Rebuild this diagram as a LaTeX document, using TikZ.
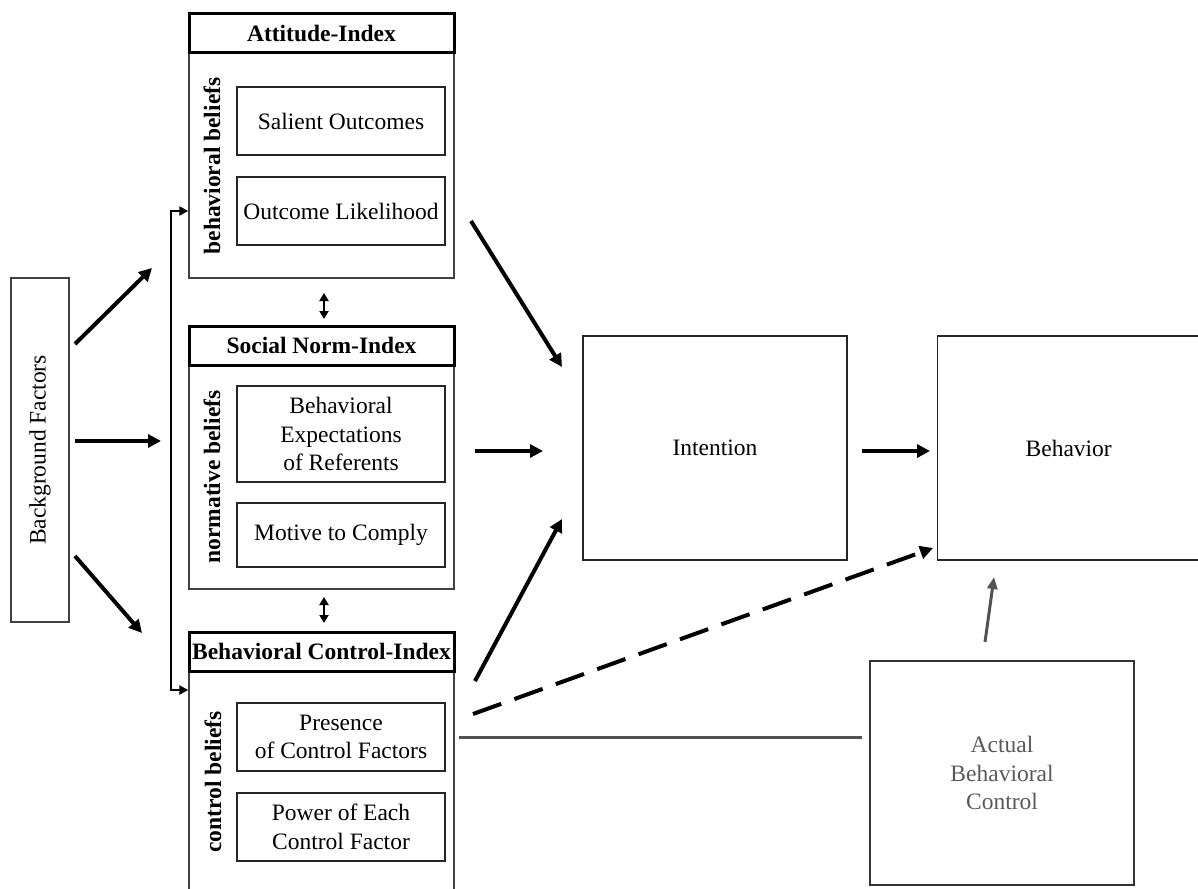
\documentclass[tikz,border=0pt]{standalone}
\usepackage{fontspec}
\setmainfont{Liberation Serif}
\usetikzlibrary{arrows.meta}
\begin{document}
\begin{tikzpicture}[x=1pt,y=-1pt,
  every node/.style={inner sep=0pt, font=\fontsize{23.5}{28.5}\selectfont},
  outerbox/.style={draw=black!75, line width=1.4pt, rectangle},
  headbox/.style={draw=black, line width=3pt, rectangle, fill=white, font=\fontsize{23.5}{28.5}\selectfont\bfseries},
  innerbox/.style={draw=black!85, line width=1.4pt, rectangle, align=center, minimum width=208pt},
  bigbox/.style={draw=black!85, line width=1.4pt, rectangle, align=center},
  sidelabel/.style={font=\fontsize{23.5}{28.5}\selectfont\bfseries},
  arr/.style={line width=4pt, -{Triangle[length=13pt,width=13pt]}},
  brk/.style={line width=2.6pt, {Triangle[length=9pt,width=9pt]}-{Triangle[length=9pt,width=9pt]}},
  dbl/.style={line width=2.4pt, {Triangle[length=8pt,width=9pt]}-{Triangle[length=8pt,width=9pt]}},
  grayc/.style={draw=black!68}
]
\useasboundingbox (0,0) rectangle (1198,888);

% Background factors
\node[outerbox, minimum width=58pt, minimum height=344pt] (bg) at (40,450) {\rotatebox{90}{Background Factors}};

% Attitude
\node[outerbox, minimum width=265pt, minimum height=225pt] (attbody) at (321.5,165.5) {};
\node[headbox, minimum width=265pt, minimum height=39pt] (atthead) at (321.5,33.5) {Attitude-Index};
\node[innerbox, minimum height=68pt] (salient) at (341,121) {Salient Outcomes};
\node[innerbox, minimum height=68pt] (likely) at (341,211) {Outcome Likelihood};
\node[sidelabel] (bbel) at (212,166) {\rotatebox{90}{behavioral beliefs}};

% Social norm
\node[outerbox, minimum width=265pt, minimum height=224pt] (snbody) at (321.5,477) {};
\node[headbox, minimum width=265pt, minimum height=39pt] (snhead) at (321.5,345.5) {Social Norm-Index};
\node[innerbox, minimum height=96pt] (expect) at (341,434) {Behavioral\\Expectations\\of Referents};
\node[innerbox, minimum height=64pt] (motive) at (341,535) {Motive to Comply};
\node[sidelabel] (nbel) at (212,477) {\rotatebox{90}{normative beliefs}};

% Behavioral control
\node[outerbox, minimum width=265pt, minimum height=240pt] (bcbody) at (321.5,791) {};
\node[headbox, minimum width=265pt, minimum height=39pt] (bchead) at (321.5,651.5) {Behavioral Control-Index};
\node[innerbox, minimum height=68pt] (presence) at (341,737) {Presence\\of Control Factors};
\node[innerbox, minimum height=68pt] (power) at (341,827) {Power of Each\\Control Factor};
\node[sidelabel] (cbel) at (213,782) {\rotatebox{90}{control beliefs}};

% Right side
\node[bigbox, minimum width=264pt, minimum height=224pt] (intention) at (715,448) {Intention};
\node[bigbox, minimum width=280pt, minimum height=224pt, anchor=west] (behavior) at (937,448) {\hspace*{-9pt}Behavior\hspace*{9pt}};
\node[bigbox, draw=black!80, text=black!65, minimum width=264pt, minimum height=224pt] (actual) at (1002,773) {Actual\\Behavioral\\Control};

% coordinates
\coordinate (b1s) at (75,344);  \coordinate (b1e) at (152,268);
\coordinate (b2s) at (75,441);  \coordinate (b2e) at (161,441);
\coordinate (b3s) at (75,556);  \coordinate (b3e) at (142,633);
\coordinate (ya) at (0,211); \coordinate (yc) at (0,690);
\coordinate (kx) at (171,0);
\coordinate (d1s) at (324,293); \coordinate (d1e) at (324,319);
\coordinate (d2s) at (324,597); \coordinate (d2e) at (324,623);
\coordinate (a1s) at (471,221); \coordinate (a1e) at (562,367);
\coordinate (a2s) at (475,451); \coordinate (a2e) at (543,451);
\coordinate (a3s) at (475,681); \coordinate (a3e) at (562,519);
\coordinate (a4s) at (862,451); \coordinate (a4e) at (930,451);
\coordinate (dss) at (473,714); \coordinate (dse) at (933,548);
\coordinate (gls) at (459,737); \coordinate (gle) at (862,737);
\coordinate (gas) at (985,642); \coordinate (gae) at (994,577);

% arrows from background
\draw[arr] (b1s) -- (b1e);
\draw[arr] (b2s) -- (b2e);
\draw[arr] (b3s) -- (b3e);
% bracket
\draw[brk] (attbody.west |- ya) -- (kx |- ya) -- (kx |- yc) -- (bcbody.west |- yc);
% double arrows
\draw[dbl] (d1s) -- (d1e);
\draw[dbl] (d2s) -- (d2e);
% to intention
\draw[arr] (a1s) -- (a1e);
\draw[arr] (a2s) -- (a2e);
\draw[arr] (a3s) -- (a3e);
\draw[arr] (a4s) -- (a4e);
% dashed
\draw[arr, dash pattern=on 30pt off 14pt] (dss) -- (dse);
% gray
\draw[grayc, line width=3pt] (gls) -- (gle);
\draw[grayc, line width=3pt, -{Triangle[length=12pt,width=10pt]}] (gas) -- (gae);
\end{tikzpicture}
\end{document}
